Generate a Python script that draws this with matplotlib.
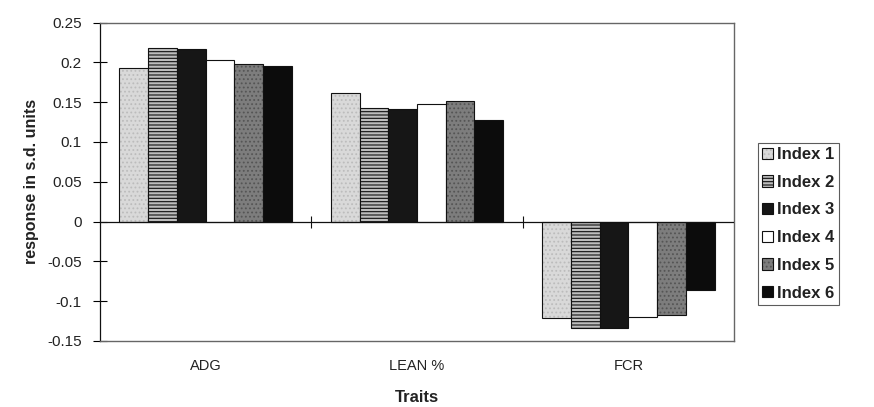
import matplotlib
matplotlib.use("Agg")
import matplotlib.pyplot as plt
import numpy as np

plt.rcParams['font.family'] = ['Liberation Sans', 'DejaVu Sans']
plt.rcParams['hatch.linewidth'] = 0.8

traits = ["ADG", "LEAN %", "FCR"]
index_names = ["Index 1", "Index 2", "Index 3", "Index 4", "Index 5", "Index 6"]
index1 = [0.193, 0.161, -0.121]
index2 = [0.218, 0.143, -0.134]
index3 = [0.217, 0.141, -0.134]
index4 = [0.203, 0.148, -0.120]
index5 = [0.198, 0.152, -0.117]
index6 = [0.195, 0.127, -0.086]
series = [index1, index2, index3, index4, index5, index6]
yticks = [-0.15, -0.1, -0.05, 0, 0.05, 0.1, 0.15, 0.2, 0.25]
ytick_labels = ["-0.15", "-0.1", "-0.05", "0", "0.05", "0.1", "0.15", "0.2", "0.25"]

faces = ["#d9d9d9", "#bdbdbd", "#161616", "#ffffff", "#7d7d7d", "#0c0c0c"]
hatches = ["....", "-----", "", "", "....", ""]
hatch_cols = ["#bcbcbc", "#111111", "#161616", "#000000", "#555555", "#0c0c0c"]

fig = plt.figure(figsize=(8.74, 4.07), dpi=100)
ax = fig.add_axes([0.1144, 0.1622, 0.7254, 0.7825])

x = np.arange(len(traits))
bw = 0.136
for i, vals in enumerate(series):
    off = (i - 2.5) * bw
    bars = ax.bar(x + off, vals, bw, color=faces[i], edgecolor="#111111",
                  linewidth=0.8, label=index_names[i], zorder=2)
    for b in bars:
        if hatches[i]:
            b.set_hatch(hatches[i])
            b._hatch_color = matplotlib.colors.to_rgba(hatch_cols[i])

ax.set_xlim(-0.5, 2.5)
ax.set_ylim(-0.15, 0.25)
ax.set_yticks(yticks)
ax.set_yticklabels(ytick_labels)
ax.set_xticks(x)
ax.set_xticklabels(traits)
ax.tick_params(axis='x', length=0, pad=13, labelsize=10.5, labelcolor="#222222")
ax.tick_params(axis='y', direction='inout', length=10, width=0.8, pad=8,
               labelsize=11, labelcolor="#222222")

for s in ['top', 'right', 'bottom']:
    ax.spines[s].set_linestyle((0, (1, 1)))
    ax.spines[s].set_color("#666666")
    ax.spines[s].set_linewidth(1.0)
ax.spines['left'].set_color("#111111")
ax.spines['left'].set_linewidth(0.9)

ax.axhline(0, color="#111111", linewidth=0.9, zorder=3)
ax.plot([0.5, 1.5], [0, 0], linestyle='none', marker='|', markersize=8,
        color="#111111", markeredgewidth=0.8, zorder=3)

ax.set_xlabel("Traits", fontsize=12, fontweight='bold', labelpad=12, color="#222222")
ax.set_ylabel("response in s.d. units", fontsize=11.5, fontweight='bold', labelpad=6,
              color="#222222")

leg = fig.legend(loc='upper left', bbox_to_anchor=(758/874, 1 - 143/407),
                 frameon=True, fancybox=False, fontsize=12, handlelength=0.65,
                 handleheight=0.65, handletextpad=0.25, labelspacing=0.76,
                 borderpad=0.25, borderaxespad=0)
leg.get_frame().set_edgecolor("#333333")
leg.get_frame().set_linewidth(0.8)
for t in leg.get_texts():
    t.set_fontweight('bold')
    t.set_color("#222222")

fig.savefig("out.png", dpi=100)
